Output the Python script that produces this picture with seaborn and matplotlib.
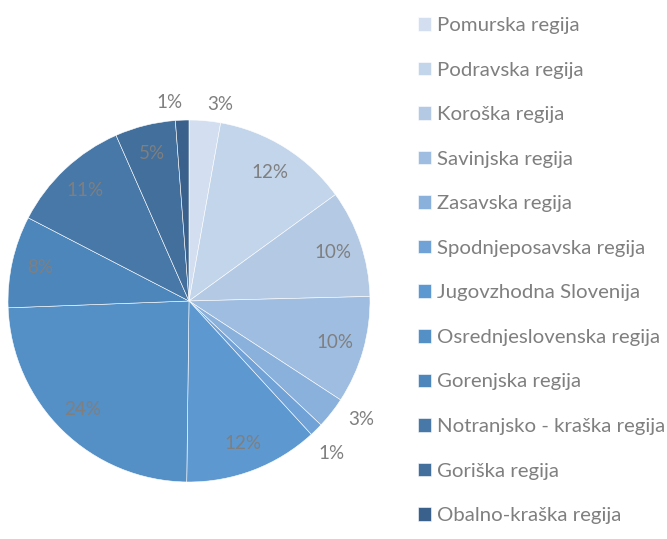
import numpy as np
import seaborn as sns
import matplotlib.pyplot as plt

# Data
regions = ["Pomurska regija", "Podravska regija", "Koroška regija", "Savinjska regija",
           "Zasavska regija", "Spodnjeposavska regija", "Jugovzhodna Slovenija",
           "Osrednjeslovenska regija", "Gorenjska regija", "Notranjsko - kraška regija",
           "Goriška regija", "Obalno-kraška regija"]
shares = [2.8, 12.2, 9.6, 9.6, 2.8, 1.2, 12.0, 24.2, 8.2, 10.8, 5.4, 1.2]

colors = ["#d3dff0", "#c3d5ea", "#b3c9e4", "#9fbde0", "#8ab0dc", "#71a2d7",
          "#5d98d0", "#548fc6", "#4d86bb", "#4778a8", "#426f9b", "#39618c"]

sns.set_theme(style="white")
plt.rcParams["font.family"] = ["Lato", "DejaVu Sans"]
text_color = "#7f7f7f"
fs = 14.7

fig = plt.figure(figsize=(6.67, 5.39), dpi=100)
# pie centre at (189, 301) px, radius 181 px
ax = fig.add_axes([8 / 667, 57 / 539, 362 / 667, 362 / 539])

wedges, texts, autotexts = ax.pie(
    shares, colors=colors, startangle=90, counterclock=False,
    autopct="%1.0f%%", pctdistance=0.84,
    wedgeprops=dict(edgecolor="white", linewidth=0.4),
    textprops=dict(color=text_color, fontsize=13.5))

# small slices get their labels outside, spread apart a little
nudge = {0: -4, 4: 3.5, 5: -1.5, 11: 3.5}
for i, (w, t, v) in enumerate(zip(wedges, autotexts, shares)):
    if v < 4:
        ang = np.deg2rad((w.theta1 + w.theta2) / 2 + nudge.get(i, 0))
        r = 1.1 if np.sin(ang) > 0 else 1.155
        t.set_position((r * np.cos(ang), r * np.sin(ang)))

ax.set_xlim(-1, 1)
ax.set_ylim(-1, 1)
ax.set_aspect("equal")
ax.axis("off")

leg = fig.legend(wedges, regions, loc="upper left",
                 bbox_to_anchor=(418 / 667, 1 - 17 / 539),
                 frameon=False, fontsize=fs, labelcolor=text_color,
                 handlelength=0.64, handleheight=0.64, handletextpad=0.29,
                 labelspacing=1.35, borderaxespad=0.0, borderpad=0.0)

fig.savefig("out.png", dpi=100)
